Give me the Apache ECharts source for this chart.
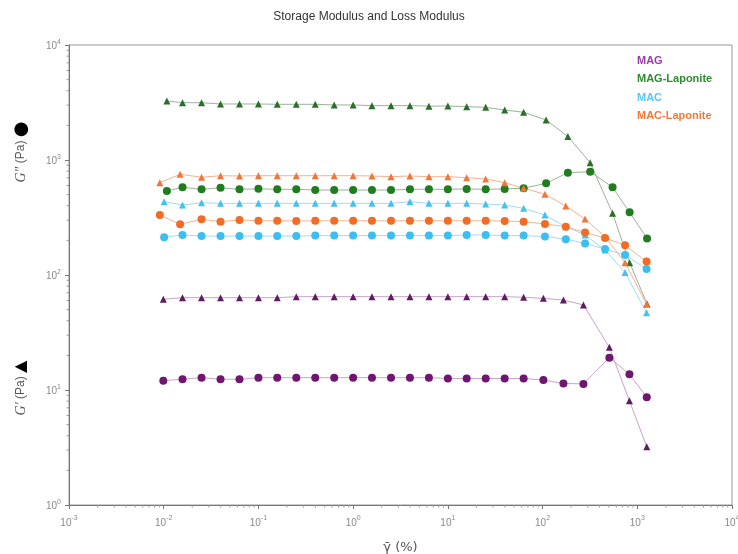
<!DOCTYPE html>
<html>
<head>
    <title>Storage Modulus and Loss Modulus</title>
    <script src="https://cdn.jsdelivr.net/npm/echarts@6/dist/echarts.min.js"></script>
</head>
<body style="margin:0">
    <div id="chart" style="width: 738px;height:554px;"></div>

    <script>
        // strain (%) per sample
        const magStrain = [0.0099, 0.0158, 0.0251, 0.0398, 0.0631, 0.1, 0.158, 0.251, 0.398, 0.631, 1, 1.58, 2.51, 3.98, 6.31, 10, 15.8, 25.1, 39.8, 63.1, 102, 166, 270, 507, 826, 1259];
        const magLapStrain = [0.0108, 0.0158, 0.0251, 0.0398, 0.0631, 0.1, 0.158, 0.251, 0.398, 0.631, 1, 1.58, 2.51, 3.98, 6.31, 10, 15.8, 25.1, 39.8, 63.1, 109, 185, 318, 548, 830, 1268];
        const macStrain = [0.0101, 0.0158, 0.0251, 0.0398, 0.0631, 0.1, 0.158, 0.251, 0.398, 0.631, 1, 1.58, 2.51, 3.98, 6.31, 10, 15.8, 25.1, 39.8, 63.1, 106, 176, 281, 457, 743, 1253];
        const macLapStrain = [0.0091, 0.0149, 0.0251, 0.0398, 0.0631, 0.1, 0.158, 0.251, 0.398, 0.631, 1, 1.58, 2.51, 3.98, 6.31, 10, 15.8, 25.1, 39.8, 63.1, 106, 176, 281, 457, 743, 1253];

        // G' (storage) and G'' (loss), Pa
        const magG1 = [61.5, 63.5, 63.5, 63.5, 63.5, 63.5, 63.5, 64.8, 64.8, 64.8, 64.8, 64.8, 64.8, 64.8, 64.8, 64.8, 64.8, 64.8, 64.8, 64, 62.7, 60.6, 54.9, 23.5, 8.07, 3.21];
        const magG2 = [12.05, 12.4, 12.8, 12.4, 12.4, 12.8, 12.8, 12.8, 12.8, 12.8, 12.8, 12.8, 12.8, 12.8, 12.8, 12.6, 12.6, 12.6, 12.6, 12.6, 12.2, 11.4, 11.3, 19.1, 13.7, 8.65];
        const magLapG1 = [3260, 3150, 3150, 3070, 3070, 3070, 3050, 3050, 3050, 3010, 3010, 2970, 2970, 2970, 2940, 2950, 2910, 2870, 2720, 2600, 2230, 1600, 948, 344, 128, 56];
        const magLapG2 = [537, 579, 556, 574, 556, 562, 556, 556, 548, 548, 548, 548, 548, 556, 556, 556, 560, 556, 560, 568, 627, 776, 791, 579, 351, 208];
        const macG1 = [434, 406, 425, 420, 420, 420, 420, 420, 420, 420, 420, 420, 420, 434, 420, 420, 420, 414, 406, 380, 332, 263, 223, 165, 105, 47];
        const macG2 = [213, 223, 218, 218, 218, 218, 218, 218, 220, 220, 220, 220, 220, 220, 220, 220, 223, 223, 220, 220, 216, 205, 188, 168, 149, 113];
        const macLapG1 = [635, 751, 708, 730, 726, 730, 730, 730, 730, 730, 730, 726, 716, 726, 716, 716, 702, 684, 635, 568, 504, 398, 307, 215, 128, 56];
        const macLapG2 = [332, 276, 305, 291, 301, 296, 296, 295, 296, 296, 296, 296, 296, 296, 296, 296, 296, 296, 295, 291, 278, 263, 234, 210, 181, 131];

        const names = ['MAG', 'MAG-Laponite', 'MAC', 'MAC-Laponite'];
        const legendColors = ['#9a3da8', '#2f8c2f', '#5cc6f2', '#f07a3a'];

        // minor ticks at 2..9 of each decade
        const xMinor = [];
        for (let k = -3; k < 4; k++) for (let m = 2; m < 10; m++) xMinor.push(m * Math.pow(10, k));
        const yMinor = [];
        for (let k = 0; k < 4; k++) for (let m = 2; m < 10; m++) yMinor.push(m * Math.pow(10, k));

        const zip = (xs, ys) => xs.map((x, i) => [x, ys[i]]);

        function mkSeries(name, xs, ys, symbol, color, lineColor, size) {
            return {
                name: name,
                type: 'line',
                data: zip(xs, ys),
                symbol: symbol,
                symbolSize: size,
                itemStyle: { color: color },
                lineStyle: { color: lineColor, width: 1 },
                emphasis: { disabled: true }
            };
        }

        const powLabel = function (v) {
            const e = Math.round(Math.log10(v));
            return '{b|10}{e|' + e + '}';
        };
        const labelRich = {
            b: { fontSize: 10, color: '#8a8a8a', fontFamily: 'Liberation Sans', lineHeight: 13, verticalAlign: 'bottom' },
            e: { fontSize: 7, color: '#8a8a8a', fontFamily: 'Liberation Sans', lineHeight: 13, verticalAlign: 'top' }
        };

        const chart = echarts.init(document.getElementById('chart'));
        chart.setOption({
            animation: false,
            backgroundColor: '#fff',
            title: {
                text: 'Storage Modulus and Loss Modulus',
                left: 'center',
                top: 6,
                textStyle: { fontSize: 12, fontWeight: 'normal', color: '#333', fontFamily: 'Liberation Sans' }
            },
            legend: {
                orient: 'vertical',
                left: 627,
                top: 50,
                itemWidth: 0,
                itemHeight: 0,
                itemGap: 7.5,
                selectedMode: false,
                data: names.map((n, i) => ({
                    name: n,
                    icon: 'none',
                    textStyle: { color: legendColors[i], fontWeight: 'bold', fontSize: 11, fontFamily: 'Liberation Sans' }
                }))
            },
            grid: {
                left: 69, right: 6, top: 45, bottom: 49,
                outerBoundsMode: 'none',
                show: true, borderColor: '#999', borderWidth: 1
            },
            xAxis: {
                type: 'log',
                min: 0.001,
                max: 10000,
                splitNumber: 7,
                name: 'γ\u0304 (%)',
                nameLocation: 'middle',
                nameGap: 36,
                nameTextStyle: { fontSize: 13, color: '#555', fontFamily: 'DejaVu Sans' },
                axisLine: { lineStyle: { color: '#777' } },
                axisTick: { length: 4, lineStyle: { color: '#777' } },
                splitLine: { show: false },
                axisLabel: { formatter: powLabel, rich: labelRich, margin: 10 }
            },
            yAxis: {
                type: 'log',
                min: 1,
                max: 10000,
                splitNumber: 4,
                axisLine: { show: true, lineStyle: { color: '#777' } },
                axisTick: { show: true, length: 4, lineStyle: { color: '#777' } },
                splitLine: { show: false },
                axisLabel: { formatter: powLabel, rich: labelRich, margin: 8 }
            },
            graphic: [
                {
                    type: 'text', x: 21, y: 152, rotation: Math.PI / 2,
                    style: {
                        text: '{g|G″} {p|(Pa)} {s|●}',
                        align: 'center', verticalAlign: 'middle',
                        rich: {
                            g: { fontSize: 14, fontStyle: 'italic', fontFamily: 'Liberation Serif', fill: '#555' },
                            p: { fontSize: 12, fontFamily: 'Liberation Sans', fill: '#555' },
                            s: { fontSize: 18, fontFamily: 'DejaVu Sans', fill: '#000' }
                        }
                    }
                },
                {
                    type: 'text', x: 21, y: 388, rotation: Math.PI / 2,
                    style: {
                        text: '{g|G′} {p|(Pa)} {s|▲}',
                        align: 'center', verticalAlign: 'middle',
                        rich: {
                            g: { fontSize: 14, fontStyle: 'italic', fontFamily: 'Liberation Serif', fill: '#555' },
                            p: { fontSize: 12, fontFamily: 'Liberation Sans', fill: '#555' },
                            s: { fontSize: 16, fontFamily: 'DejaVu Sans', fill: '#000' }
                        }
                    }
                }
            ],
            series: [
                {
                    type: 'custom', silent: true, clip: false,
                    data: xMinor.map(v => [v, 1]),
                    renderItem: function (params, api) {
                        const p = api.coord([api.value(0), 1]);
                        return { type: 'line', shape: { x1: p[0], y1: p[1], x2: p[0], y2: p[1] + 2.5 }, style: { stroke: '#999', lineWidth: 1 } };
                    }
                },
                {
                    type: 'custom', silent: true, clip: false,
                    data: yMinor.map(v => [0.001, v]),
                    renderItem: function (params, api) {
                        const p = api.coord([0.001, api.value(1)]);
                        return { type: 'line', shape: { x1: p[0] - 2.5, y1: p[1], x2: p[0], y2: p[1] }, style: { stroke: '#999', lineWidth: 1 } };
                    }
                },
                mkSeries('MAG', magStrain, magG1, 'triangle', '#5e1d63', '#c9a3c9', 7),
                mkSeries('MAG', magStrain, magG2, 'circle', '#6e1670', '#c9a3c9', 8),
                mkSeries('MAG-Laponite', magLapStrain, magLapG1, 'triangle', '#2b6f2b', '#9bb39b', 7),
                mkSeries('MAG-Laponite', magLapStrain, magLapG2, 'circle', '#1f7d1f', '#9bb39b', 8),
                mkSeries('MAC', macStrain, macG1, 'triangle', '#45c0ef', '#9fdcf5', 7),
                mkSeries('MAC', macStrain, macG2, 'circle', '#3dbef0', '#9fdcf5', 8),
                mkSeries('MAC-Laponite', macLapStrain, macLapG1, 'triangle', '#f2763a', '#f7b28f', 7),
                mkSeries('MAC-Laponite', macLapStrain, macLapG2, 'circle', '#f26c26', '#f7b28f', 8)
            ]
        });
    </script>
</body>
</html>
